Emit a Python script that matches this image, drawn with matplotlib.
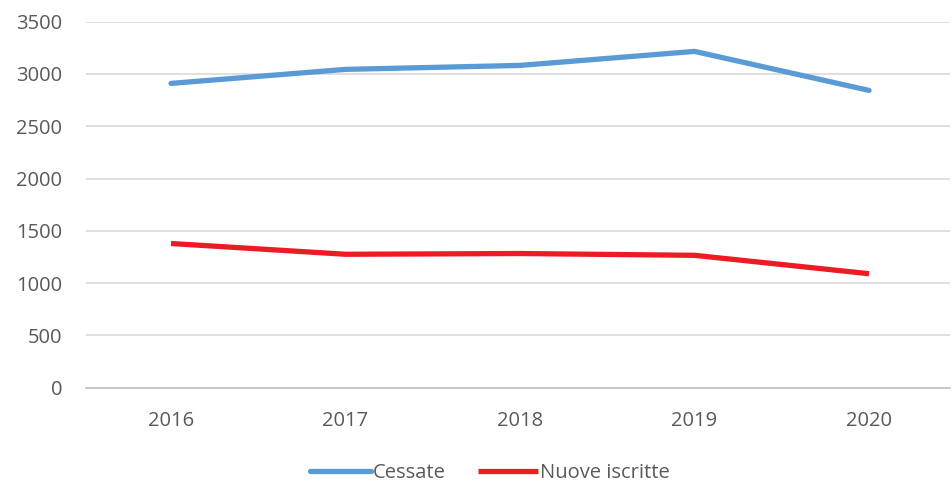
import matplotlib
matplotlib.use("agg")
import matplotlib.pyplot as plt

years = ["2016", "2017", "2018", "2019", "2020"]
cessate = [2910, 3044, 3082, 3216, 2843]
nuove_iscritte = [1379, 1276, 1283, 1266, 1090]

plt.rcParams['font.family'] = ['Open Sans', 'DejaVu Sans']

W, H = 953, 483
fig = plt.figure(figsize=(W / 100, H / 100), dpi=100)
ax = fig.add_axes([86 / W, 1 - 387.7 / H, (950 - 86) / W, (387.7 - 21.7) / H])

x = range(len(years))
ax.plot(x, cessate, color="#5B9BD5", lw=3.8, solid_capstyle="round", label="Cessate")
ax.plot(x, nuove_iscritte, color="#ED1C24", lw=3.8, solid_capstyle="butt", label="Nuove iscritte")

ax.set_ylim(0, 3500)
ax.set_yticks(range(0, 3501, 500))
ax.set_xlim(-0.487, 4.464)
ax.set_xticks(list(x))
ax.set_xticklabels(years)

ax.grid(axis="y", color="#D9D9D9", lw=1.2)
ax.set_axisbelow(True)
for s in ["top", "right", "left"]:
    ax.spines[s].set_visible(False)
ax.spines["bottom"].set_color("#BFBFBF")
ax.spines["bottom"].set_linewidth(1.2)
ax.tick_params(length=0, labelsize=14.5, colors="#595959")
ax.tick_params(axis="y", pad=17)
ax.tick_params(axis="x", pad=17)

leg = ax.legend(loc="center", bbox_to_anchor=(0.468, -0.234), ncol=2, frameon=False,
                fontsize=14.5, handlelength=3.0, handletextpad=0.1, columnspacing=1.6,
                borderpad=0.2)
for t in leg.get_texts():
    t.set_color("#595959")

fig.savefig("out.png", dpi=100)
